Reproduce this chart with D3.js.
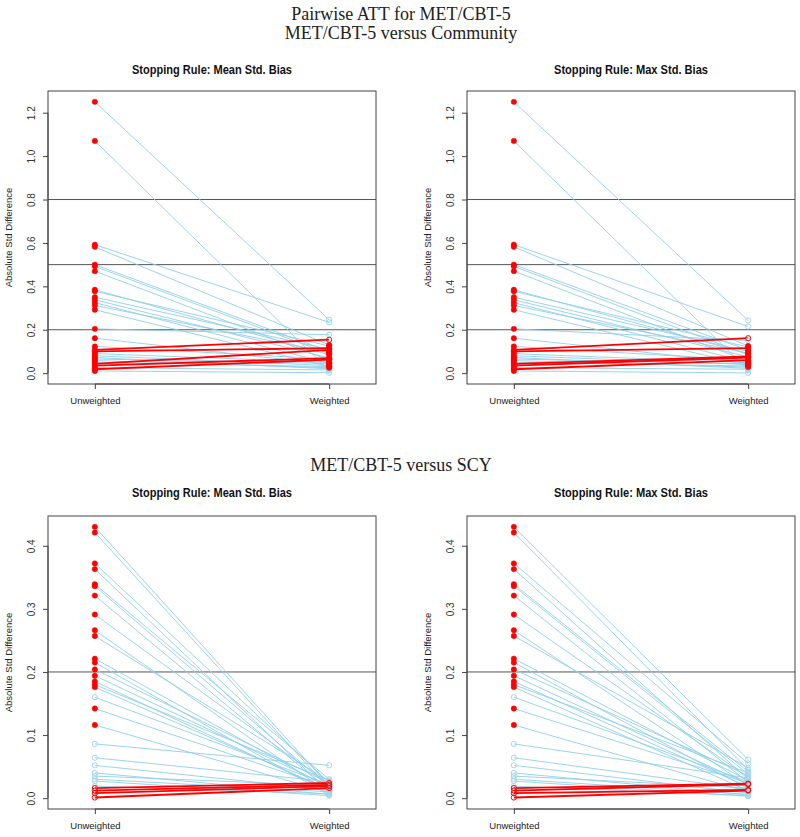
<!DOCTYPE html>
<html><head><meta charset="utf-8">
<script src="https://cdn.jsdelivr.net/npm/d3@7/dist/d3.min.js"></script>
<style>body{margin:0;background:#fff}svg{display:block}</style>
</head><body>
<svg id="chart" width="800" height="837"></svg>
<script>
// ---------------- DATA ----------------
const xLabels = ["Unweighted", "Weighted"];
const mainTitle = "Pairwise ATT for MET/CBT-5";
const sectionTitles = ["MET/CBT-5 versus Community", "MET/CBT-5 versus SCY"];
const panelTitles = ["Stopping Rule: Mean Std. Bias", "Stopping Rule: Max Std. Bias"];
const yTitle = "Absolute Std Difference";

const commTicks = [0.0, 0.2, 0.4, 0.6, 0.8, 1.0, 1.2];
const commRefLines = [0.2, 0.5, 0.8];
const scyTicks = [0.0, 0.1, 0.2, 0.3, 0.4];
const scyRefLines = [0.2];

// Community comparison
const commUnw = [1.250, 1.070, 0.592, 0.582, 0.500, 0.492, 0.470, 0.384, 0.377, 0.350, 0.338, 0.325, 0.312, 0.292, 0.204, 0.161, 0.123, 0.107, 0.100, 0.090, 0.080, 0.072, 0.065, 0.058, 0.050, 0.043, 0.035, 0.025, 0.018, 0.010];
const commUnwSig = [1,1,1,1,1,1,1,1,1,1,1,1,1,1,1,1,1,1,1,1,1,1,1,1,1,1,1,1,1,1];
const commWtMean = [0.246, 0.012, 0.234, 0.130, 0.100, 0.090, 0.060, 0.085, 0.125, 0.110, 0.070, 0.045, 0.095, 0.030, 0.177, 0.040, 0.065, 0.154, 0.115, 0.050, 0.035, 0.020, 0.045, 0.025, 0.030, 0.107, 0.069, 0.015, 0.062, 0.002];
const commWtMeanSig = [0,0,0,1,1,1,1,1,1,1,1,1,1,1,0,1,1,0,0,1,1,0,1,1,1,0,0,0,0,0];
const commWtMax = [0.243, 0.015, 0.215, 0.125, 0.105, 0.085, 0.055, 0.090, 0.120, 0.100, 0.075, 0.050, 0.092, 0.035, 0.150, 0.045, 0.060, 0.161, 0.115, 0.048, 0.040, 0.022, 0.042, 0.028, 0.033, 0.077, 0.072, 0.018, 0.060, 0.001];
const commWtMaxSig = [0,0,0,1,1,1,1,1,1,1,1,1,1,1,0,1,1,0,0,1,1,0,1,1,1,0,0,0,0,0];

// SCY comparison
const scyUnw = [0.430, 0.421, 0.372, 0.363, 0.339, 0.336, 0.321, 0.291, 0.266, 0.257, 0.221, 0.215, 0.204, 0.194, 0.185, 0.180, 0.176, 0.160, 0.142, 0.116, 0.086, 0.064, 0.052, 0.040, 0.035, 0.030, 0.027, 0.019, 0.016, 0.012, 0.008, 0.001];
const scyUnwSig = [1,1,1,1,1,1,1,1,1,1,1,1,1,1,1,1,1,0,1,1,0,0,0,0,0,0,0,0,0,0,0,0];
const scyWtMean = [0.020, 0.015, 0.025, 0.010, 0.030, 0.018, 0.012, 0.022, 0.008, 0.027, 0.016, 0.005, 0.024, 0.019, 0.011, 0.028, 0.014, 0.021, 0.017, 0.009, 0.052, 0.026, 0.013, 0.006, 0.020, 0.010, 0.004, 0.007, 0.024, 0.021, 0.019, 0.016];
const scyWtMeanSig = new Array(scyUnw.length).fill(0);
const scyWtMax = [0.061, 0.045, 0.055, 0.030, 0.042, 0.038, 0.025, 0.033, 0.020, 0.048, 0.028, 0.015, 0.036, 0.022, 0.018, 0.040, 0.012, 0.026, 0.024, 0.010, 0.032, 0.014, 0.008, 0.005, 0.016, 0.006, 0.003, 0.004, 0.023, 0.022, 0.013, 0.012];
const scyWtMaxSig = new Array(scyUnw.length).fill(0);

// ---------------- DRAW ----------------
const svg = d3.select("#chart");
const SANS = "'Liberation Sans', Arial, Helvetica, sans-serif";
const SERIF = "'Liberation Serif', 'Times New Roman', serif";
const LINE_BLUE = "#8fcfe8";
const PT_BLUE = "#a6d6ea";
const RED = "#ff0000";
const AXIS = "#444";

// titles
const titleX = 401;
svg.append("text").attr("x", titleX).attr("y", 19.5).attr("text-anchor", "middle")
  .style("font-family", SERIF).style("font-size", "18px").attr("fill", "#222").text(mainTitle);
svg.append("text").attr("x", titleX).attr("y", 38.5).attr("text-anchor", "middle")
  .style("font-family", SERIF).style("font-size", "18px").attr("fill", "#222").text(sectionTitles[0]);
svg.append("text").attr("x", titleX).attr("y", 471).attr("text-anchor", "middle")
  .style("font-family", SERIF).style("font-size", "18px").attr("fill", "#222").text(sectionTitles[1]);

function panel(cfg) {
  const {x0, x1, y0, y1, unw, unwSig, wt, wtSig, ticks, refs, title, titleY} = cfg;
  const g = svg.append("g");
  const maxV = d3.max(unw.concat(wt));
  const pad = 0.04 * maxV;
  const x = d3.scaleLinear().domain([0.8, 2.2]).range([x0, x1]);
  const y = d3.scaleLinear().domain([0 - pad, maxV + pad]).range([y1, y0]);

  // panel title
  g.append("text").attr("x", (x0 + x1) / 2).attr("y", titleY).attr("text-anchor", "middle")
    .style("font-family", SANS).style("font-weight", "bold").style("font-size", "13px")
    .attr("textLength", title.length > 28 ? 160 : 154).attr("lengthAdjust", "spacingAndGlyphs")
    .attr("fill", "#111").text(title);

  // reference lines
  g.selectAll("line.ref").data(refs).join("line").attr("class", "ref")
    .attr("x1", x0).attr("x2", x1).attr("y1", d => y(d)).attr("y2", d => y(d))
    .attr("stroke", "#555").attr("stroke-width", 1);

  const rows = unw.map((u, i) => ({u, w: wt[i], su: unwSig[i], sw: wtSig[i], inc: wt[i] > u}));

  // segments: blue first, then red
  const segs = rows.slice().sort((a, b) => (a.inc ? 1 : 0) - (b.inc ? 1 : 0));
  g.selectAll("line.seg").data(segs).join("line").attr("class", "seg")
    .attr("x1", x(1)).attr("x2", x(2)).attr("y1", d => y(d.u)).attr("y2", d => y(d.w))
    .attr("stroke", d => d.inc ? RED : LINE_BLUE)
    .attr("stroke-width", d => d.inc ? 1.8 : 0.9);

  // points
  const pts = [];
  rows.forEach(r => {
    pts.push({cx: 1, v: r.u, sig: r.su, red: r.su || r.inc});
    pts.push({cx: 2, v: r.w, sig: r.sw, red: r.sw || r.inc});
  });
  pts.sort((a, b) => (a.red ? 1 : 0) - (b.red ? 1 : 0));
  g.selectAll("circle.pt").data(pts).join("circle").attr("class", "pt")
    .attr("cx", d => x(d.cx)).attr("cy", d => y(d.v)).attr("r", d => d.sig ? 2.7 : 2.6)
    .attr("fill", d => d.sig ? RED : "none")
    .attr("stroke", d => d.red ? RED : PT_BLUE)
    .attr("stroke-width", d => d.sig ? 0.5 : 1);

  // box
  g.append("rect").attr("x", x0).attr("y", y0).attr("width", x1 - x0).attr("height", y1 - y0)
    .attr("fill", "none").attr("stroke", AXIS).attr("stroke-width", 1);

  // y axis
  const ya = g.append("g").attr("transform", `translate(${x0},0)`)
    .call(d3.axisLeft(y).tickValues(ticks).tickFormat(d3.format(".1f")).tickSize(5).tickSizeOuter(0));
  ya.select(".domain").attr("d", `M0,${y(ticks[0])}V${y(ticks[ticks.length - 1])}`).attr("stroke", AXIS);
  ya.selectAll(".tick line").attr("stroke", AXIS);
  ya.selectAll(".tick text").attr("x", null).attr("dy", null)
    .attr("transform", "translate(-13,0) rotate(-90)").attr("text-anchor", "middle")
    .style("font-family", SANS).style("font-size", "10px").attr("fill", "#333");

  // x axis
  const xa = g.append("g").attr("transform", `translate(0,${y1})`)
    .call(d3.axisBottom(x).tickValues([1, 2]).tickFormat((d, i) => xLabels[i]).tickSize(5).tickSizeOuter(0));
  xa.select(".domain").attr("d", `M${x(1)},0H${x(2)}`).attr("stroke", AXIS);
  xa.selectAll(".tick line").attr("stroke", AXIS);
  xa.selectAll(".tick text").attr("y", 20).attr("dy", null)
    .style("font-family", SANS).style("font-size", "9.5px").attr("fill", "#222");

  // y title
  g.append("text").attr("transform", `translate(${x0 - 36},${(y0 + y1) / 2}) rotate(-90)`)
    .attr("text-anchor", "middle").style("font-family", SANS).style("font-size", "9.5px")
    .attr("fill", "#222").text(yTitle);
}

const L = [48, 376], R = [467, 795];
panel({x0: L[0], x1: L[1], y0: 91, y1: 384, unw: commUnw, unwSig: commUnwSig, wt: commWtMean, wtSig: commWtMeanSig,
  ticks: commTicks, refs: commRefLines, title: panelTitles[0], titleY: 74});
panel({x0: R[0], x1: R[1], y0: 91, y1: 384, unw: commUnw, unwSig: commUnwSig, wt: commWtMax, wtSig: commWtMaxSig,
  ticks: commTicks, refs: commRefLines, title: panelTitles[1], titleY: 74});
panel({x0: L[0], x1: L[1], y0: 516, y1: 809, unw: scyUnw, unwSig: scyUnwSig, wt: scyWtMean, wtSig: scyWtMeanSig,
  ticks: scyTicks, refs: scyRefLines, title: panelTitles[0], titleY: 497});
panel({x0: R[0], x1: R[1], y0: 516, y1: 809, unw: scyUnw, unwSig: scyUnwSig, wt: scyWtMax, wtSig: scyWtMaxSig,
  ticks: scyTicks, refs: scyRefLines, title: panelTitles[1], titleY: 497});
</script>
</body></html>
